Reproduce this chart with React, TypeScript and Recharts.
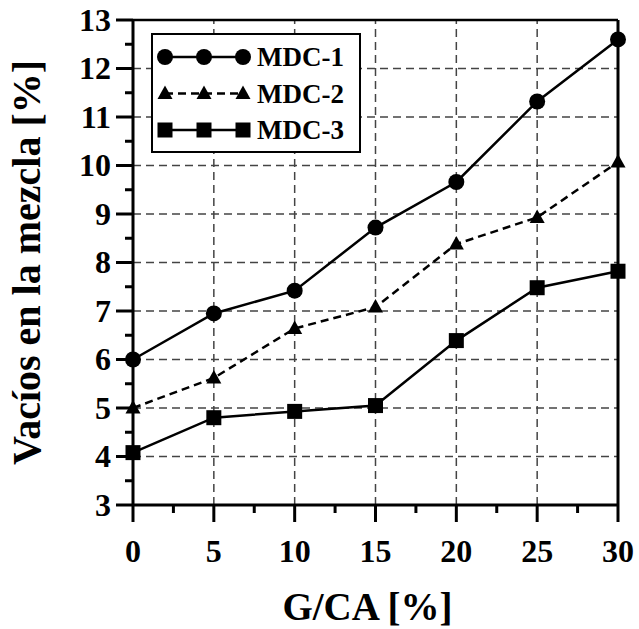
import React from 'react';
import { LineChart, Line, XAxis, YAxis, ReferenceLine, Legend } from 'recharts';

const gcaValues = [0, 5, 10, 15, 20, 25, 30];
const mdc1 = [6.0, 6.95, 7.42, 8.72, 9.66, 11.32, 12.6];
const mdc2 = [5.0, 5.62, 6.64, 7.08, 8.38, 8.93, 10.07];
const mdc3 = [4.08, 4.8, 4.93, 5.05, 6.39, 7.48, 7.82];

const xTicks = [0, 2.5, 5, 7.5, 10, 12.5, 15, 17.5, 20, 22.5, 25, 27.5, 30];
const yTicks = [3, 3.5, 4, 4.5, 5, 5.5, 6, 6.5, 7, 7.5, 8, 8.5, 9, 9.5, 10, 10.5, 11, 11.5, 12, 12.5, 13];
const xGrid = [5, 10, 15, 20, 25];
const yGrid = [4, 5, 6, 7, 8, 9, 10, 11, 12];

const seriesNames = ['MDC-1', 'MDC-2', 'MDC-3'];
const xLabel = 'G/CA [%]';
const yLabel = 'Vacíos en la mezcla [%]';

const data = gcaValues.map((g, i) => ({ g, m1: mdc1[i], m2: mdc2[i], m3: mdc3[i] }));

const FONT = '"Liberation Serif", "Times New Roman", serif';

const Marker = ({ cx, cy, kind }: { cx: number; cy: number; kind: string }) => {
  if (kind === 'circle') return <circle cx={cx} cy={cy} r={8} fill="#000" />;
  if (kind === 'triangle')
    return <path d={`M${cx},${cy - 8} L${cx + 7.5},${cy + 5.5} L${cx - 7.5},${cy + 5.5} Z`} fill="#000" />;
  return <rect x={cx - 7.5} y={cy - 7.5} width={15} height={15} fill="#000" />;
};

const makeDot = (kind: string) => (props: any) => {
  const { cx, cy, index } = props;
  if (cx == null || cy == null) return <g key={index} />;
  return <Marker key={index} cx={cx} cy={cy} kind={kind} />;
};

const XTick = (props: any) => {
  const { x, y, payload } = props;
  const v = payload.value;
  const major = v % 5 === 0;
  return (
    <g>
      <line x1={x} x2={x} y1={y} y2={y + (major ? 17 : 8)} stroke="#000" strokeWidth={3} />
      {major && (
        <text x={x} y={y + 57} textAnchor="middle" fontFamily={FONT} fontWeight="bold" fontSize={32} fill="#000">
          {v}
        </text>
      )}
    </g>
  );
};

const YTick = (props: any) => {
  const { x, y, payload } = props;
  const v = payload.value;
  const major = Number.isInteger(v);
  return (
    <g>
      <line x1={x - (major ? 17 : 8)} x2={x} y1={y} y2={y} stroke="#000" strokeWidth={3} />
      {major && (
        <text x={x - 22} y={y} dy="0.34em" textAnchor="end" fontFamily={FONT} fontWeight="bold" fontSize={32} fill="#000">
          {v}
        </text>
      )}
    </g>
  );
};

const YLabel = (props: any) => {
  const { viewBox } = props;
  const cx = viewBox.x + 26;
  const cy = viewBox.y + viewBox.height / 2;
  return (
    <text
      x={cx}
      y={cy}
      transform={`rotate(-90, ${cx}, ${cy})`}
      textAnchor="middle"
      dy="0.34em"
      fontFamily={FONT}
      fontWeight="bold"
      fontSize={40}
      fill="#000"
    >
      {yLabel}
    </text>
  );
};

const XLabel = (props: any) => {
  const { viewBox } = props;
  const cx = viewBox.x + viewBox.width / 2 - 8;
  return (
    <text x={cx} y={620} textAnchor="middle" fontFamily={FONT} fontWeight="bold" fontSize={39} fill="#000">
      {xLabel}
    </text>
  );
};

const kinds = ['circle', 'triangle', 'square'];
const dashes = [undefined, '8 5', undefined];

const LegendBox = () => (
  <div style={{ width: 210, height: 120, background: '#fff', border: '2px solid #000', boxSizing: 'border-box' }}>
    <svg width={206} height={116} style={{ display: 'block' }}>
      {seriesNames.map((name, i) => {
        const yy = 22 + i * 36.5;
        return (
          <g key={name}>
            <line x1={12} x2={90} y1={yy} y2={yy} stroke="#000" strokeWidth={2.5} strokeDasharray={dashes[i]} />
            <Marker cx={12} cy={yy} kind={kinds[i]} />
            <Marker cx={51} cy={yy} kind={kinds[i]} />
            <Marker cx={90} cy={yy} kind={kinds[i]} />
            <text x={104} y={yy} dy="0.34em" fontFamily={FONT} fontWeight="bold" fontSize={27} fill="#000">
              {name}
            </text>
          </g>
        );
      })}
    </svg>
  </div>
);

export default function App() {
  return (
    <div style={{ position: 'absolute', left: 0, top: 0, background: '#fff' }}>
      <LineChart width={639} height={629} data={data} margin={{ top: 20, right: 21, bottom: 0, left: 0 }}>
        {xGrid.map((v) => (
          <ReferenceLine key={'vx' + v} x={v} stroke="#444" strokeWidth={1.5} strokeDasharray="8 5" />
        ))}
        {yGrid.map((v) => (
          <ReferenceLine key={'hy' + v} y={v} stroke="#444" strokeWidth={1.5} strokeDasharray="8 5" />
        ))}
        <ReferenceLine y={13} stroke="#000" strokeWidth={2.5} />
        <ReferenceLine x={30} stroke="#000" strokeWidth={3} />
        <XAxis
          dataKey="g"
          type="number"
          domain={[0, 30]}
          ticks={xTicks}
          interval={0}
          height={124}
          tickSize={0}
          tickMargin={0}
          tickLine={false}
          axisLine={{ stroke: '#000', strokeWidth: 3 }}
          tick={<XTick />}
          label={<XLabel />}
          allowDecimals
        />
        <YAxis
          type="number"
          domain={[3, 13]}
          ticks={yTicks}
          interval={0}
          width={133}
          tickSize={0}
          tickMargin={0}
          tickLine={false}
          axisLine={{ stroke: '#000', strokeWidth: 3 }}
          tick={<YTick />}
          label={<YLabel />}
          allowDecimals
        />
        <Line dataKey="m1" name={seriesNames[0]} stroke="#000" strokeWidth={2.5} dot={makeDot('circle')} isAnimationActive={false} />
        <Line dataKey="m2" name={seriesNames[1]} stroke="#000" strokeWidth={2.5} strokeDasharray="8 5" dot={makeDot('triangle')} isAnimationActive={false} />
        <Line dataKey="m3" name={seriesNames[2]} stroke="#000" strokeWidth={2.5} dot={makeDot('square')} isAnimationActive={false} />
        <Legend
          layout="vertical"
          align="center"
          verticalAlign="middle"
          content={<LegendBox />}
          wrapperStyle={{ position: 'absolute', left: 151, top: 33, width: 210, height: 120 }}
        />
      </LineChart>
    </div>
  );
}
